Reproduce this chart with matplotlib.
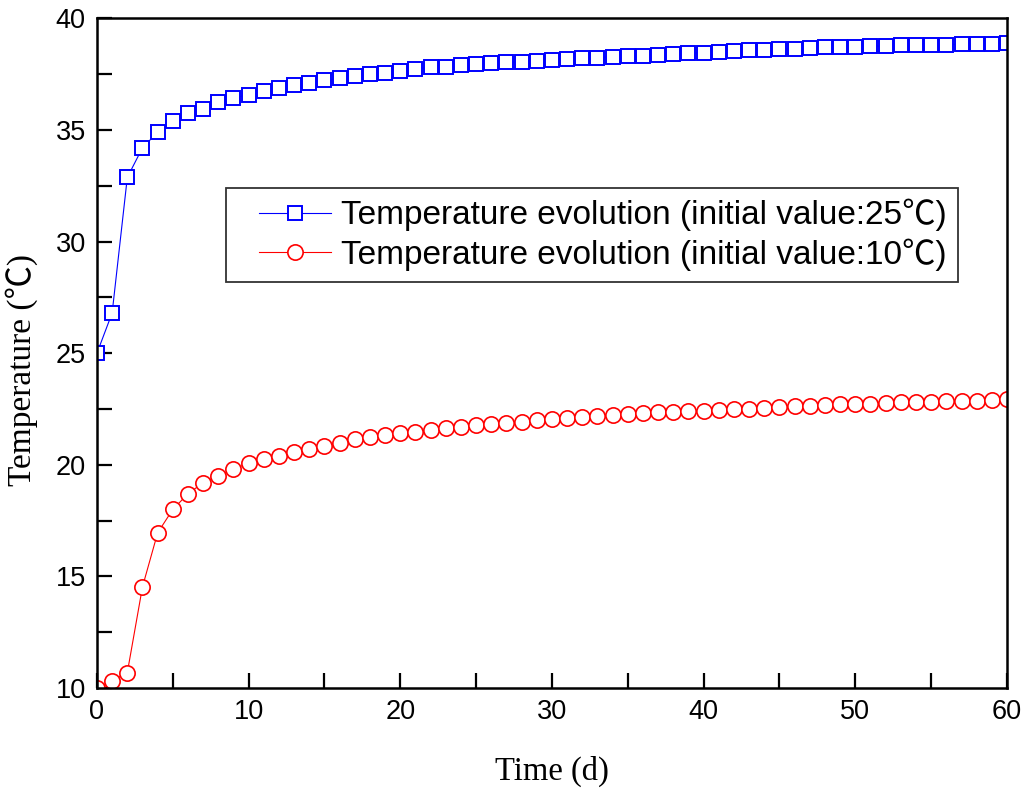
import matplotlib
matplotlib.use('Agg')
import matplotlib.pyplot as plt
import numpy as np
from matplotlib.ticker import MultipleLocator
from matplotlib.legend_handler import HandlerLine2D

# days 0..60, values
days = list(range(0, 61))

temp_25 = [25.0, 26.8, 32.87, 34.2, 34.9, 35.4, 35.74, 35.95, 36.24, 36.43,
           36.58, 36.76, 36.88, 37.0, 37.12, 37.22, 37.32, 37.43, 37.51, 37.57,
           37.64, 37.73, 37.81, 37.84, 37.91, 37.96, 37.99, 38.02, 38.06, 38.1,
           38.14, 38.17, 38.2, 38.24, 38.28, 38.31, 38.33, 38.36, 38.4, 38.43,
           38.46, 38.5, 38.53, 38.56, 38.6, 38.61, 38.63, 38.67, 38.7, 38.71,
           38.73, 38.74, 38.77, 38.79, 38.8, 38.8, 38.82, 38.83, 38.85, 38.86,
           38.89]

temp_10 = [10.0, 10.33, 10.69, 14.53, 16.95, 18.0, 18.7, 19.2, 19.5, 19.8,
           20.07, 20.25, 20.41, 20.56, 20.69, 20.86, 20.99, 21.16, 21.26, 21.33,
           21.41, 21.48, 21.56, 21.63, 21.71, 21.78, 21.83, 21.86, 21.93, 22.01,
           22.05, 22.11, 22.16, 22.2, 22.24, 22.28, 22.33, 22.36, 22.38, 22.4,
           22.42, 22.45, 22.48, 22.5, 22.53, 22.6, 22.63, 22.64, 22.67, 22.7,
           22.71, 22.74, 22.77, 22.8, 22.81, 22.83, 22.84, 22.86, 22.87, 22.9,
           22.93]

label_25 = 'Temperature evolution (initial value:25\u2103)'
label_10 = 'Temperature evolution (initial value:10\u2103)'

sans = ['Liberation Sans', 'Noto Sans CJK SC', 'DejaVu Sans']
serif = ['Liberation Serif', 'Noto Sans CJK SC', 'DejaVu Serif']

fig = plt.figure(figsize=(10.24, 7.92), dpi=100)
ax = fig.add_axes([0.0947, 0.1313, 0.8887, 0.8456])

l1, = ax.plot(days, temp_25, color='#0000ff', lw=0.8, marker='s', ms=10,
              mfc='white', mec='#0000ff', mew=1.4, label=label_25)
l2, = ax.plot(days, temp_10, color='#ff0000', lw=0.8, marker='o', ms=11,
              mfc='white', mec='#ff0000', mew=1.2, label=label_10)

ax.set_xlim(0, 60)
ax.set_ylim(10, 40)
ax.xaxis.set_major_locator(MultipleLocator(10))
ax.xaxis.set_minor_locator(MultipleLocator(5))
ax.yaxis.set_major_locator(MultipleLocator(5))
ax.yaxis.set_minor_locator(MultipleLocator(2.5))
ax.tick_params(which='both', direction='in', length=11, width=1.6,
               top=False, right=False, labelsize=19.5, pad=8)
for lab in ax.get_xticklabels() + ax.get_yticklabels():
    lab.set_family(sans)
for s in ax.spines.values():
    s.set_linewidth(1.8)

ax.set_xlabel('Time (d)', fontsize=23.5, family=serif, labelpad=22)
ax.set_ylabel('Temperature (\u2103)', fontsize=24, family=serif)
ax.yaxis.set_label_coords(-0.065, 0.475)

hmap = {l1: HandlerLine2D(xpad=0.66), l2: HandlerLine2D(xpad=0.66)}
leg = ax.legend(loc='upper left', bbox_to_anchor=(0.1418, 0.7466),
                prop={'family': sans, 'size': 24}, frameon=True, fancybox=False,
                edgecolor='black', handlelength=2.82, borderpad=0.33,
                labelspacing=0.21, handletextpad=0.3, borderaxespad=0,
                handler_map=hmap)
leg.get_frame().set_linewidth(1.3)

fig.savefig('out.png', dpi=100)
